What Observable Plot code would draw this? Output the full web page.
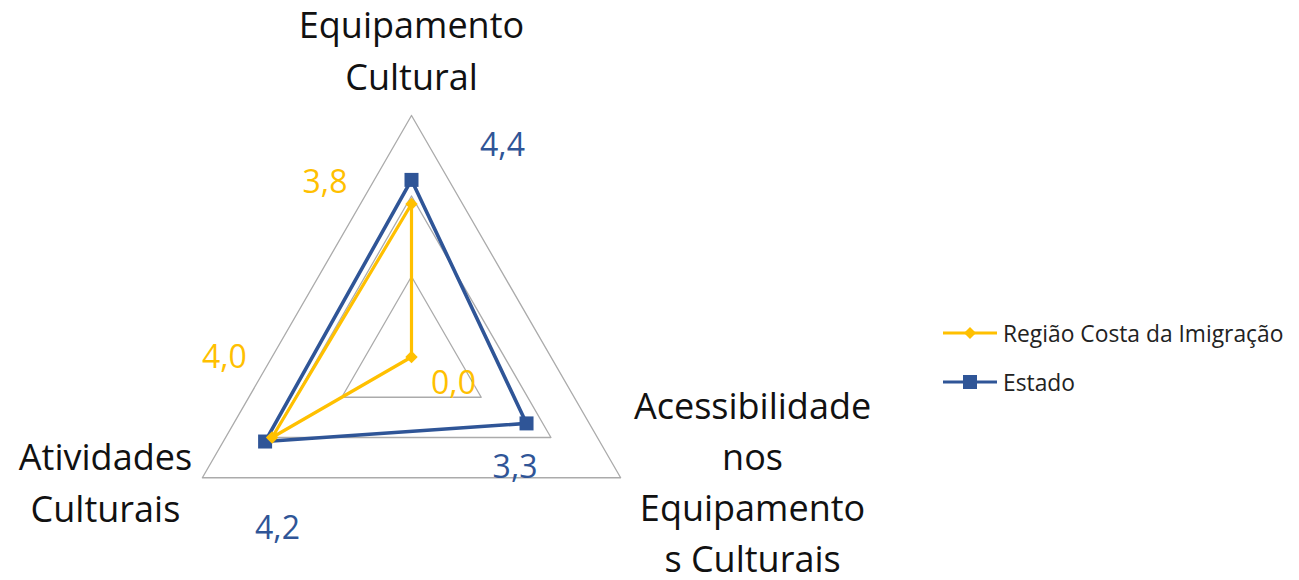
<!DOCTYPE html>
<html>
<head>
<meta charset="utf-8">
<script src="https://cdn.jsdelivr.net/npm/d3@7"></script>
<script src="https://cdn.jsdelivr.net/npm/@observablehq/plot@0.6"></script>
<style>
  html, body { margin: 0; padding: 0; background: #fff; }
  #wrap { position: relative; width: 1299px; height: 580px; font-family: "Open Sans", sans-serif; }
  #legend { position: absolute; left: 943px; top: 0; }
  .item { position: absolute; left: 0; display: flex; align-items: center; height: 34px; white-space: nowrap;
          font-size: 22.8px; color: #222; }
  .item svg { display: block; margin-right: 6px; }
</style>
</head>
<body>
<div id="wrap"><div id="chart"></div><div id="legend"></div></div>
<script>
// ---- data ----
const axisNames = ["Equipamento Cultural", "Acessibilidade nos Equipamentos Culturais", "Atividades Culturais"];
const axisLabels = ["Equipamento\nCultural", "Acessibilidade\nnos\nEquipamento\ns Culturais", "Atividades\nCulturais"];
const seriesNames = ["Região Costa da Imigração", "Estado"];
const regiaoValues = [3.8, 0.0, 4.0];
const estadoValues = [4.4, 3.3, 4.2];
const gridLevels = [2, 4, 6];
const maxValue = 6;

// ---- layout / style ----
const W = 1299, H = 580;
const cx = 411, cy = 356.5, outerR = 241.5;
const unit = outerR / maxValue;
const colors = {"Região Costa da Imigração": "#FFC000", "Estado": "#2F5597"};
const gridColor = "#ABABAB";
// label offsets (pixels) from the point, per series per axis
const labelOffsets = {
  "Região Costa da Imigração": [[-86.5, -21.7], [42, 26.3], [-47.6, -80.2]],
  "Estado": [[91, -34.6], [-11.5, 43.9], [12.4, 86.8]]
};
const axisLabelOffsets = [[0, -26], [131.9, 93.75], [-96.9, 43.75]];
const axisLabelLineHeights = [52, 51, 52];

const angle = i => (90 - 120 * i) * Math.PI / 180;
const px = (v, i) => v * Math.cos(angle(i));
const py = (v, i) => v * Math.sin(angle(i));

// grid triangles
const grid = gridLevels.flatMap(l => [0, 1, 2, 0].map(i => ({level: l, x: px(l, i), y: py(l, i)})));

const seriesValues = {"Região Costa da Imigração": regiaoValues, "Estado": estadoValues};
const pts = s => seriesValues[s].map((v, i) => ({series: s, axis: axisNames[i], value: v, i, x: px(v, i), y: py(v, i)}));
const closed = s => { const p = pts(s); return [...p, p[0]]; };

const fmt = v => v.toFixed(1).replace(".", ",");
const drawOrder = ["Estado", "Região Costa da Imigração"];

const marks = [
  Plot.line(grid, {x: "x", y: "y", z: "level", stroke: gridColor, strokeWidth: 1.3}),
];
for (const s of drawOrder) {
  marks.push(Plot.line(closed(s), {x: "x", y: "y", stroke: colors[s], strokeWidth: s === "Estado" ? 3.6 : 3.2, strokeLinejoin: "miter"}));
}
for (const s of drawOrder) {
  marks.push(Plot.dot(pts(s), {x: "x", y: "y", fill: colors[s], stroke: "none",
    symbol: s === "Estado" ? "square" : "diamond2", r: s === "Estado" ? 7.9 : 5.6}));
}
for (const s of seriesNames) {
  pts(s).forEach((p, k) => {
    const [dx, dy] = labelOffsets[s][k];
    marks.push(Plot.text([p], {x: "x", y: "y", text: d => fmt(d.value), dx, dy, fill: colors[s],
      fontSize: 32, fontFamily: "Open Sans", textAnchor: "middle", lineAnchor: "middle"}));
  });
}
axisLabels.forEach((lab, i) => {
  const [dx, dy] = axisLabelOffsets[i];
  marks.push(Plot.text([{x: px(maxValue, i), y: py(maxValue, i), t: lab}], {x: "x", y: "y", text: "t", dx, dy,
    fill: "#111", fontSize: 36, fontFamily: "Open Sans", textAnchor: "middle", lineAnchor: "bottom",
    lineHeight: axisLabelLineHeights[i] / 36}));
});

const chart = Plot.plot({
  width: W, height: H, margin: 0,
  x: {domain: [-cx / unit, (W - cx) / unit], range: [0, W], axis: null},
  y: {domain: [-(H - cy) / unit, cy / unit], range: [H, 0], axis: null},
  style: {fontFamily: "Open Sans", background: "#fff", overflow: "visible"},
  marks
});
document.getElementById("chart").appendChild(chart);

// legend (HTML)
const legend = document.getElementById("legend");
const legendCenters = [333, 382];
seriesNames.forEach((s, k) => {
  const item = document.createElement("div");
  item.className = "item";
  item.style.top = (legendCenters[k] - 17) + "px";
  const c = colors[s];
  const marker = s === "Estado"
    ? `<rect x="20" y="10" width="14" height="14" fill="${c}"/>`
    : `<path d="M27,11 L33,17 L27,23 L21,17 Z" fill="${c}"/>`;
  item.innerHTML = `<svg width="54" height="34"><line x1="0" x2="54" y1="17" y2="17" stroke="${c}" stroke-width="3.2"/>${marker}</svg><span>${s}</span>`;
  legend.appendChild(item);
});
</script>
</body>
</html>
